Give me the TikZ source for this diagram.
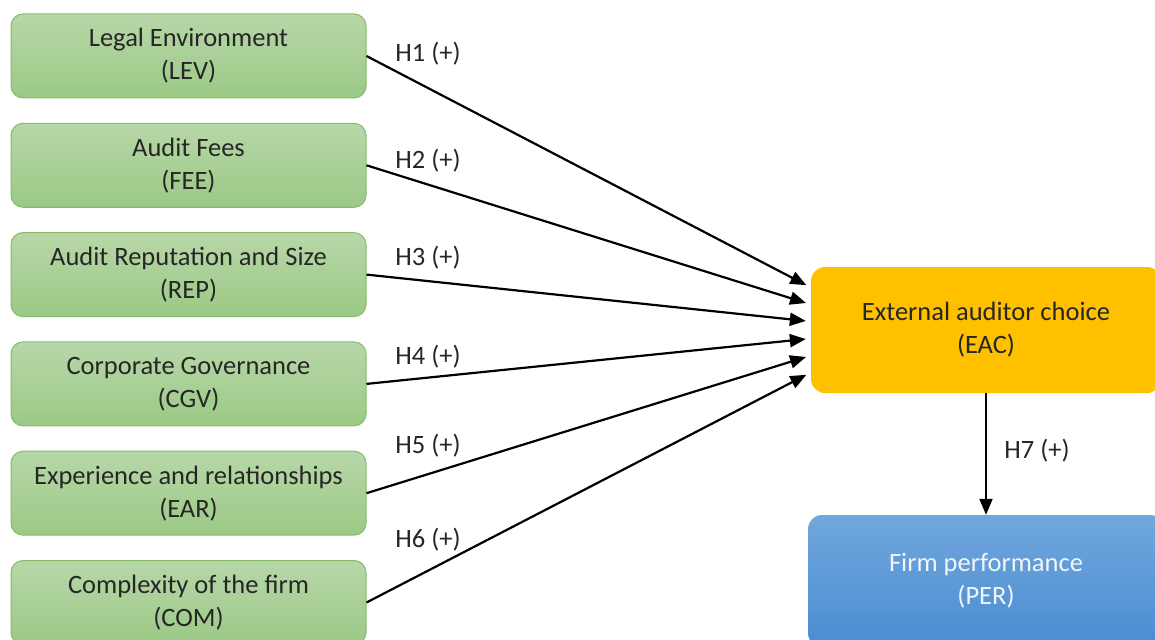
\documentclass[tikz,border=0pt]{standalone}
\usepackage{fontspec}
\setmainfont{Carlito}
\usepackage{xcolor}
\usetikzlibrary{arrows.meta, calc}
\definecolor{grntop}{HTML}{B7D7A8}
\definecolor{grnbot}{HTML}{9BC985}
\definecolor{grnline}{HTML}{86BA6C}
\definecolor{gold}{HTML}{FFC000}
\definecolor{blutop}{HTML}{71A7DC}
\definecolor{blubot}{HTML}{4A8DD3}
\definecolor{txtgray}{HTML}{262626}

\begin{document}
\begin{tikzpicture}[x=1pt, y=-1pt,
    every node/.style = {font=\fontsize{26.5}{33}\selectfont, text=txtgray, align=center},
    factor/.style = {rounded corners=12pt, draw=grnline, line width=1pt, top color=grntop, bottom color=grnbot,
                     minimum width=355pt, minimum height=84pt, inner sep=0pt},
    choice/.style = {rounded corners=14pt, fill=gold, minimum width=350pt, minimum height=126pt, inner sep=0pt},
    outcome/.style = {rounded corners=14pt, top color=blutop, bottom color=blubot, text=white!90!blutop,
                      minimum width=356pt, minimum height=132pt, inner sep=0pt},
    hyp/.style = {line width=2.2pt, -{Triangle[length=16pt, width=13pt]}, shorten >=5pt}]
    % Parametri
    \pgfmathsetmacro{\boxx}{188.5}
    \pgfmathsetmacro{\gap}{109.3}
    \pgfmathsetmacro{\tipgap}{17}
    % Taglio
    \useasboundingbox (0,0) rectangle (1155,639);
    \clip (0,0) rectangle (1155,639);
    % Variabile dipendente e risultato
    \node[choice] (eac) at (986,330) {External auditor choice\\(EAC)};
    \node[outcome] (per) at (986,581) {Firm performance\\(PER)};
    % Fattori
    \foreach \nm/\txt/\ab/\hy [count=\i] in {lev/Legal Environment/LEV/54, fee/Audit Fees/FEE/161,
        rep/Audit Reputation and Size/REP/258, cgv/Corporate Governance/CGV/357,
        ear/Experience and relationships/EAR/446, com/Complexity of the firm/COM/540}{
        \node[factor] (\nm) at (\boxx,{56+\gap*(\i-1)}) {\txt\\(\ab)};
        \coordinate (end\i) at ($(eac.west)+(0,{(\i-3.5)*\tipgap})$);
        \draw[hyp] (\nm.east) -- (end\i);
        \node (h\i) at (428,\hy) {H\i{} (+)};
    }
    % H7
    \draw[hyp, shorten >=0pt] (eac.south) -- (per.north);
    \node (h7) at (1037,451) {H7 (+)};
\end{tikzpicture}
\end{document}
